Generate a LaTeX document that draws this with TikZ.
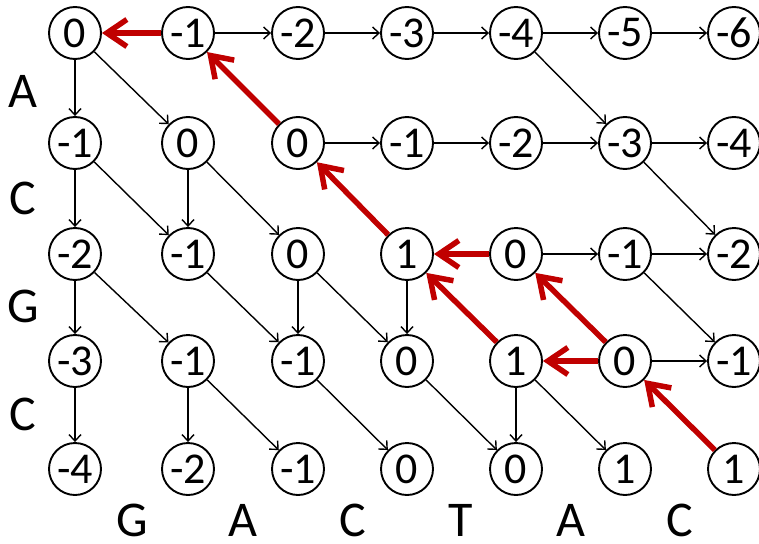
\documentclass[tikz,border=0pt]{standalone}
\usepackage{fontspec}
\setmainfont{Carlito}
\usetikzlibrary{arrows.meta}
\definecolor{pathred}{RGB}{192,0,0}
\begin{document}
\begin{tikzpicture}[x=1pt,y=-1pt,
  cell/.style={circle,draw,line width=1.9pt,minimum size=52pt,inner sep=0pt,font=\fontsize{44}{44}\selectfont},
  edge/.style={line width=1.4pt,-{Straight Barb[length=6.5pt,width=12pt]}},
  back/.style={pathred,line width=5.5pt,-{Straight Barb[length=20pt,width=27pt]}},
  seq/.style={font=\fontsize{50}{50}\selectfont,anchor=base,inner sep=0pt}]
\useasboundingbox (0,0) rectangle (759,543);
\def\colx{{75,188,298,407,516,625,734}}
\def\rowy{{33,143,254,361,469}}
\foreach \r/\vals in {0/{0,-1,-2,-3,-4,-5,-6},1/{-1,0,0,-1,-2,-3,-4},2/{-2,-1,0,1,0,-1,-2},3/{-3,-1,-1,0,1,0,-1},4/{-4,-2,-1,0,0,1,1}}{
  \foreach \v [count=\c from 0] in \vals {
    \pgfmathsetmacro\xx{\colx[\c]}
    \pgfmathsetmacro\yy{\rowy[\r]}
    \node[cell] (n\r\c) at (\xx,\yy) {\v};
  }
}
% sequence letters
\node[seq] (la) at (23,107) {A};
\node[seq] (lc1) at (23,214) {C};
\node[seq] (lg) at (23,322) {G};
\node[seq] (lc2) at (23,430) {C};
\node[seq] (b1) at (132,536) {G};
\node[seq] (b2) at (243,536) {A};
\node[seq] (b3) at (353,536) {C};
\node[seq] (b4) at (461,536) {T};
\node[seq] (b5) at (571,536) {A};
\node[seq] (b6) at (680,536) {C};
% black edges
\foreach \a/\b in {01/02,02/03,03/04,04/05,05/06,
  00/10,00/11,04/15,
  12/13,13/14,14/15,15/16,
  10/20,10/21,11/21,11/22,15/26,
  24/25,25/26,
  20/30,20/31,21/32,22/32,22/33,23/33,25/36,
  35/36,
  30/40,31/41,31/42,32/43,33/44,34/44,34/45}
  \draw[edge] (n\a) -- (n\b);
% traceback path
\foreach \a/\b in {01/00,12/01,23/12,24/23,34/23,35/24,35/34,46/35}
  \draw[back] (n\a) -- (n\b);
\end{tikzpicture}
\end{document}
